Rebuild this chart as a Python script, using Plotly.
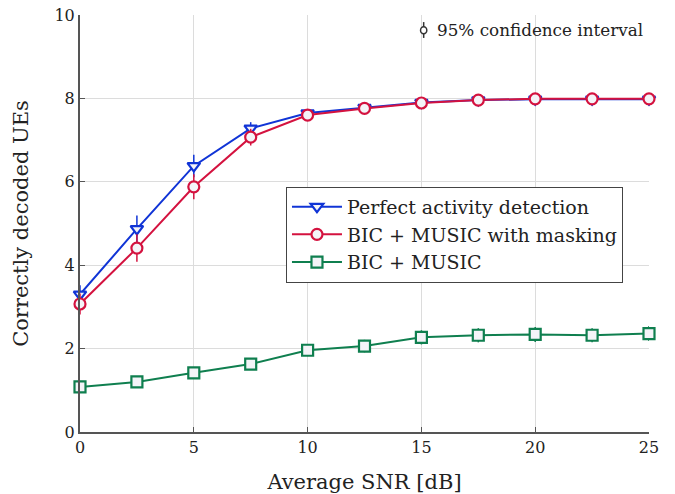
import plotly.graph_objects as go

snr = [0, 2.5, 5, 7.5, 10, 12.5, 15, 17.5, 20, 22.5, 25]
perfect = [3.30, 4.87, 6.38, 7.28, 7.65, 7.78, 7.90, 7.96, 7.98, 7.98, 7.98]
perfect_err = [0.22, 0.32, 0.27, 0.15, 0.08, 0.06, 0.05, 0.04, 0.03, 0.03, 0.03]
masking = [3.07, 4.41, 5.88, 7.07, 7.60, 7.76, 7.89, 7.96, 7.99, 7.99, 7.99]
masking_err = [0.25, 0.33, 0.30, 0.20, 0.10, 0.07, 0.05, 0.04, 0.03, 0.03, 0.03]
music = [1.08, 1.20, 1.42, 1.63, 1.96, 2.06, 2.27, 2.32, 2.34, 2.32, 2.36]
music_err = [0.10, 0.10, 0.12, 0.12, 0.14, 0.15, 0.17, 0.17, 0.18, 0.17, 0.18]

names = ["Perfect activity detection", "BIC + MUSIC with masking", "BIC + MUSIC"]
colors = ["#1034d6", "#d4123f", "#0f7f4f"]
symbols = ["triangle-down", "circle", "square"]

FONT = "DejaVu Serif"

fig = go.Figure()
for name, ys, errs, col, sym in zip(names, [perfect, masking, music],
                                     [perfect_err, masking_err, music_err], colors, symbols):
    fig.add_trace(go.Scatter(
        x=snr, y=ys, name=name, mode="lines+markers",
        line=dict(color=col, width=2),
        marker=dict(symbol=sym, size=11, color="#f4f4f8",
                    line=dict(color=col, width=2.2)),
        error_y=dict(type="data", array=errs, color=col, thickness=1.5, width=0),
        cliponaxis=False,
    ))

fig.update_layout(
    width=675, height=494,
    margin=dict(l=80, r=26, t=15, b=62, autoexpand=False),
    paper_bgcolor="white", plot_bgcolor="white",
    font=dict(family=FONT, size=16, color="#222"),
    showlegend=True,
    legend=dict(x=0.362, y=0.588, xanchor="left", yanchor="top",
                bordercolor="#444", borderwidth=1, bgcolor="white",
                font=dict(family=FONT, size=19), tracegroupgap=0, itemwidth=50),
    xaxis=dict(range=[0, 25], tickvals=[0, 5, 10, 15, 20, 25],
               showgrid=True, gridcolor="#dcdcdc", gridwidth=1,
               showline=True, linecolor="#555", linewidth=2,
               ticks="inside", ticklen=5, tickcolor="#555",
               zeroline=False, mirror=False, automargin=False,
               tickfont=dict(size=16),
               title=dict(text="Average SNR [dB]", font=dict(size=21), standoff=18)),
    yaxis=dict(range=[0, 10], tickvals=[0, 2, 4, 6, 8, 10],
               showgrid=True, gridcolor="#dcdcdc", gridwidth=1,
               showline=True, linecolor="#555", linewidth=2,
               ticks="inside", ticklen=5, tickcolor="#555",
               zeroline=False, automargin=False,
               tickfont=dict(size=16),
               title=dict(text="Correctly decoded UEs", font=dict(size=21), standoff=20)),
)

# confidence interval legend glyph
fig.add_shape(type="line", xref="paper", yref="paper",
              x0=0.604, x1=0.604, y0=0.945, y1=0.983, line=dict(color="#333", width=1.5))
fig.add_shape(type="circle", xref="paper", yref="paper",
              x0=0.5985, x1=0.6095, y0=0.955, y1=0.972,
              line=dict(color="#333", width=1.5), fillcolor="white")
fig.add_annotation(text="95% confidence interval", xref="paper", yref="paper",
                   x=0.993, y=0.964, xanchor="right", yanchor="middle",
                   showarrow=False, font=dict(family=FONT, size=16.8, color="#222"))

fig.write_html("out.html")
